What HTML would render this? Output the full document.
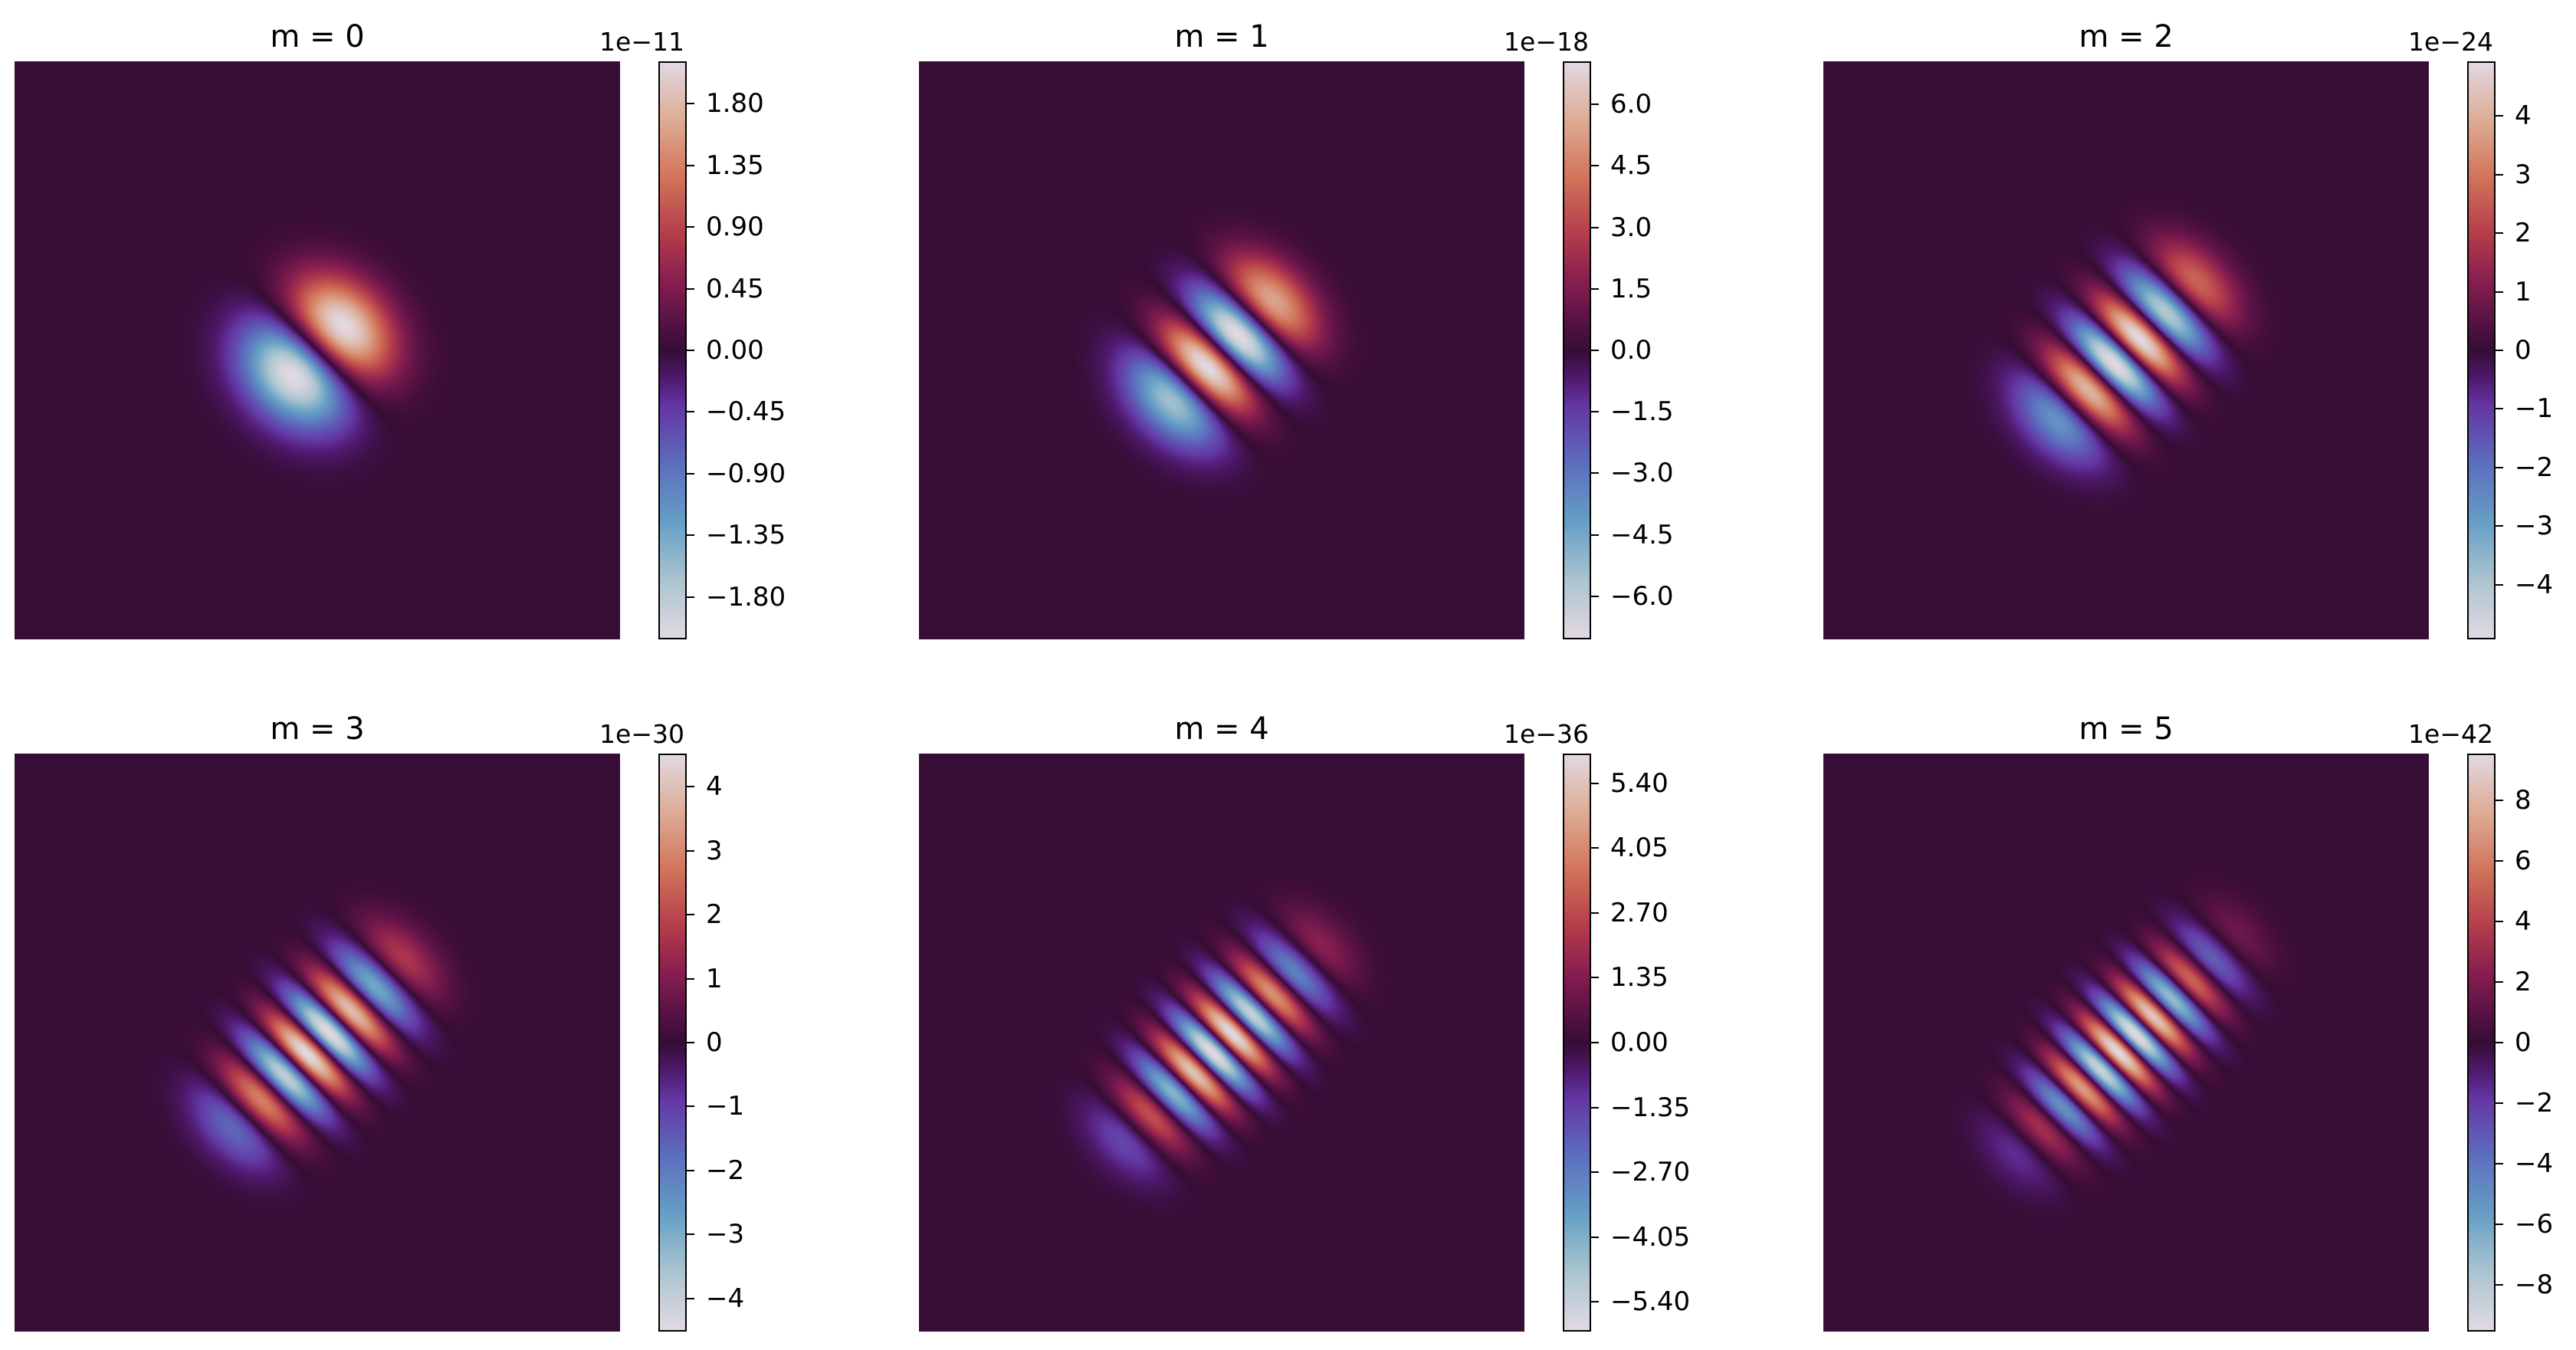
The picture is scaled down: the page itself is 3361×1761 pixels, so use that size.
<!DOCTYPE html>
<html><head><meta charset="utf-8">
<style>
html,body{margin:0;padding:0;background:#fff;}
#fig{position:relative;width:3361px;height:1761px;background:#fff;overflow:hidden;font-family:"DejaVu Sans","Liberation Sans",sans-serif;color:#000;}
.abs{position:absolute;}
.title{font-size:40px;white-space:nowrap;transform:translateX(-50%);line-height:1;}
.tick{font-size:34px;white-space:nowrap;line-height:1;}
.off{font-size:33px;white-space:nowrap;line-height:1;}
canvas{position:absolute;display:block;}
.cbframe{position:absolute;border:2px solid #000;box-sizing:border-box;}
.tk{position:absolute;height:2px;width:10px;background:#000;}
</style></head>
<body>
<div id="fig"></div>
<script>
// ---- data ----
const mValues = [0, 1, 2, 3, 4, 5];
const vmaxValues = [2.11, 7.05, 4.93, 4.52, 6.02, 9.55];
const exponentLabels = ["1e\u221211", "1e\u221218", "1e\u221224", "1e\u221230", "1e\u221236", "1e\u221242"];
const tickValues0 = [-1.80, -1.35, -0.90, -0.45, 0.00, 0.45, 0.90, 1.35, 1.80];
const tickValues1 = [-6.0, -4.5, -3.0, -1.5, 0.0, 1.5, 3.0, 4.5, 6.0];
const tickValues2 = [-4, -3, -2, -1, 0, 1, 2, 3, 4];
const tickValues3 = [-4, -3, -2, -1, 0, 1, 2, 3, 4];
const tickValues4 = [-5.40, -4.05, -2.70, -1.35, 0.00, 1.35, 2.70, 4.05, 5.40];
const tickValues5 = [-8, -6, -4, -2, 0, 2, 4, 6, 8];
const tickDecimals = [2, 1, 0, 0, 2, 0];

const tickSets = [tickValues0, tickValues1, tickValues2, tickValues3, tickValues4, tickValues5];

// colormap (twilight-like)
const cmapStops = [
 [0.00,226,217,226],[0.10,172,197,208],[0.20,103,160,198],[0.30,92,112,190],
 [0.40,100,56,165],[0.45,80,26,112],[0.50,54,13,52],[0.55,88,18,68],
 [0.62,135,30,80],[0.70,180,60,75],[0.80,210,116,90],[0.90,221,172,150],[1.00,226,217,226]];
function cmap(t){
  t=Math.max(0,Math.min(1,t));
  for(let i=1;i<cmapStops.length;i++){
    if(t<=cmapStops[i][0]){
      const a=cmapStops[i-1],b=cmapStops[i];const f=(t-a[0])/(b[0]-a[0]);
      return [a[1]+(b[1]-a[1])*f,a[2]+(b[2]-a[2])*f,a[3]+(b[3]-a[3])*f];
    }
  }
  return [226,217,226];
}

// layout
const colX=[19,1199,2379], rowY=[80,983];
const IMW=790, IMH=754, CBW=37, CBGAP=50;
const fig=document.getElementById('fig');

function fieldValue(n,u){
  let h0=1,h1=2*u;
  if(n===0) return h0;
  for(let k=1;k<n;k++){const h2=2*u*h1-2*k*h0;h0=h1;h1=h2;}
  return h1;
}

mValues.forEach((m,idx)=>{
  const col=idx%3,row=Math.floor(idx/3);
  const x0=colX[col],y0=rowY[row];
  const n=2*m+1;
  // title
  const t=document.createElement('div');
  t.className='abs title';
  
  
  t.style.left=(x0+IMW/2)+'px';t.style.top=(y0-52)+'px';
  t.textContent='m = '+m;fig.appendChild(t);
  // heatmap
  const W=395,H=377;
  const cv=document.createElement('canvas');
  cv.width=W;cv.height=H;
  cv.style.left=x0+'px';cv.style.top=y0+'px';cv.style.width=IMW+'px';cv.style.height=IMH+'px';
  
  
  fig.appendChild(cv);
  const ctx=cv.getContext('2d');
  const img=ctx.createImageData(W,H);
  const unit=25;
  const s=(m===0)?3:2;
  const sv=1.2-0.08*m;
  const vals=new Float32Array(W*H);let mx=0;
  for(let j=0;j<H;j++)for(let i=0;i<W;i++){
    const dx=(i-W/2)/unit,dy=(j-H/2)/unit;
    const u=(dx-dy)/Math.SQRT2, v=(dx+dy)/Math.SQRT2;
    const val=fieldValue(n,u)*Math.exp(-u*u/2)*Math.exp(-u*u/(2*s*s))*Math.exp(-v*v/(2*sv));
    vals[j*W+i]=val;if(Math.abs(val)>mx)mx=Math.abs(val);
  }
  for(let k=0;k<W*H;k++){
    const c=cmap(0.5+0.5*vals[k]/mx);
    img.data[4*k]=c[0];img.data[4*k+1]=c[1];img.data[4*k+2]=c[2];img.data[4*k+3]=255;
  }
  ctx.putImageData(img,0,0);
  // colorbar
  const cbx=x0+IMW+CBGAP, cby=y0, cbh=IMH;
  const cb=document.createElement('canvas');
  cb.width=1;cb.height=256;
  cb.style.left=cbx+'px';cb.style.top=cby+'px';cb.style.width=CBW+'px';cb.style.height=cbh+'px';
  
  
  fig.appendChild(cb);
  const bctx=cb.getContext('2d');const bimg=bctx.createImageData(1,256);
  for(let k=0;k<256;k++){const c=cmap(1-k/255);bimg.data[4*k]=c[0];bimg.data[4*k+1]=c[1];bimg.data[4*k+2]=c[2];bimg.data[4*k+3]=255;}
  bctx.putImageData(bimg,0,0);
  const fr=document.createElement('div');fr.className='cbframe';
  
  
  fr.style.left=cbx+'px';fr.style.top=cby+'px';fr.style.width=CBW+'px';fr.style.height=cbh+'px';
  fig.appendChild(fr);
  // ticks
  const vmax=vmaxValues[idx];
  const yOf=v=>cby+cbh/2-(v/vmax)*(cbh/2);
  tickSets[idx].forEach(v=>{
    const y=yOf(v);
    const tk=document.createElement('div');tk.className='tk';
    
    
    tk.style.left=(cbx+CBW)+'px';tk.style.top=(y-1)+'px';fig.appendChild(tk);
    const lb=document.createElement('div');lb.className='abs tick';
    
    
    let s=Math.abs(v).toFixed(tickDecimals[idx]);
    if(v<0)s='\u2212'+s;
    lb.textContent=s;
    lb.style.left=(cbx+CBW+25)+'px';lb.style.top=(y-17)+'px';fig.appendChild(lb);
  });
  const off=document.createElement('div');off.className='abs off';
  
  
  off.textContent=exponentLabels[idx];
  off.style.right=(3361-(cbx+CBW-3))+'px';off.style.top=(y0-42)+'px';
  fig.appendChild(off);
});
</script>
</body></html>
